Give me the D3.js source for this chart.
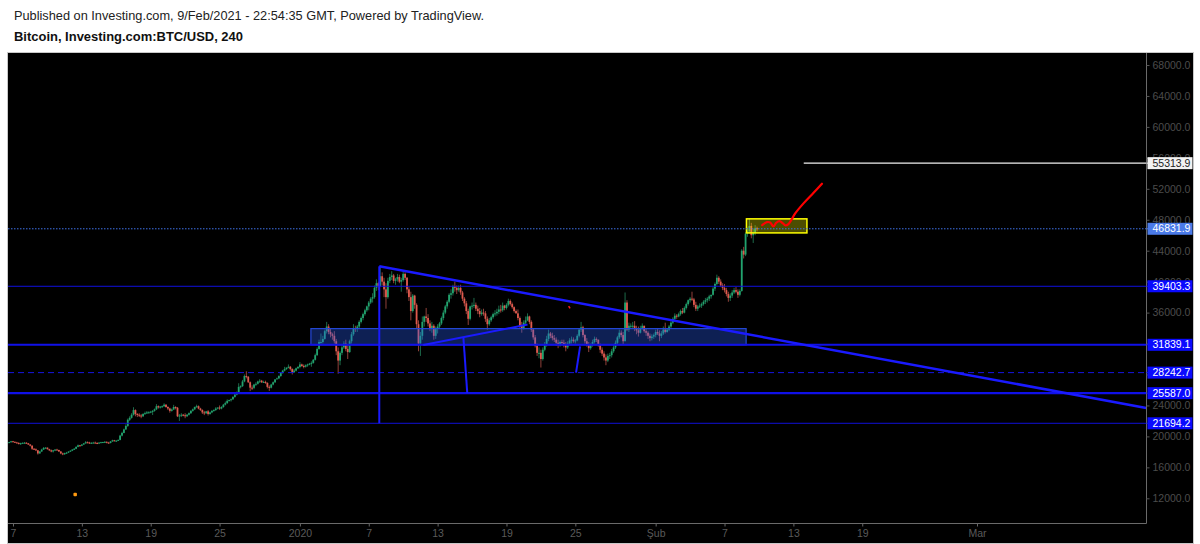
<!DOCTYPE html>
<html>
<head>
<meta charset="utf-8">
<script src="https://d3js.org/d3.v7.min.js"></script>
<style>
body { margin: 0; background: #fff; }
svg { display: block; font-family: "Liberation Sans", Arial, sans-serif; }
</style>
</head>
<body>
<svg id="chart" width="1200" height="544"></svg>
<script>
var title = "Published on Investing.com, 9/Feb/2021 - 22:54:35 GMT, Powered by TradingView.";
var subtitle = "Bitcoin, Investing.com:BTC/USD, 240";

var dateTicks = ["2020-12-07", "2020-12-13", "2020-12-19", "2020-12-25", "2021-01-01", "2021-01-07", "2021-01-13",
    "2021-01-19", "2021-01-25", "2021-02-01", "2021-02-07", "2021-02-13", "2021-02-19", "2021-03-01"];
var dateLabels = ["7", "13", "19", "25", "2020", "7", "13", "19", "25", "Şub", "7", "13", "19", "Mar"];
var priceTicks = [12000, 16000, 20000, 24000, 28000, 32000, 36000, 40000, 44000, 48000, 52000, 56000, 60000, 64000, 68000];

// 4h candles, [high, low, close]; open = previous close
var firstCandle = "2020-12-06T12:00:00Z";
var firstOpen = 19150;
var decCandles = [
    [19250,19080,19200],[19300,19150,19260],[19420,19220,19370],
    [19420,19250,19300],[19340,19180,19220],[19300,19100,19150],[19250,18950,19050],[19180,18900,19120],[19220,19080,19170],
    [19280,19100,19180],[19250,19050,19100],[19150,18900,18950],[19000,18700,18800],[18850,18250,18400],[18500,18300,18330],
    [18450,18100,18200],[18250,17650,17800],[18100,17750,18050],[18400,18000,18300],[18630,18250,18500],[18600,18400,18550],
    [18560,18300,18350],[18400,18100,18200],[18300,17950,18050],[18250,17910,18200],[18350,18100,18300],[18400,18200,18250],
    [18270,18000,18050],[18100,17700,17800],[17900,17570,17700],[17900,17600,17850],[18000,17750,17900],[18100,17850,18030],
    [18200,18020,18150],[18350,18100,18300],[18500,18250,18400],[18700,18350,18650],[18950,18600,18850],[18900,18700,18800],
    [19000,18740,18950],[19150,18900,19100],[19400,19050,19250],[19350,19100,19200],[19300,19050,19150],[19250,19050,19170],
    [19300,19100,19200],[19330,19100,19150],[19250,19000,19100],[19250,19050,19200],[19300,19150,19250],[19300,19180,19270],
    [19400,19200,19300],[19350,19100,19200],[19300,19060,19150],[19400,19100,19350],[19570,19300,19500],[19550,19350,19440],
    [19500,19290,19450],[19600,19400,19550],[20200,19500,20100],[20600,20000,20450],[21000,20400,20900],[21560,20850,21350],
    [22300,21230,22150],[22600,22000,22400],[23000,22300,22800],[23770,22700,23400],[23500,22600,22900],[23000,22500,22800],
    [23000,22500,22700],[22900,22350,22600],[23000,22500,22900],[23200,22800,23000],[23280,22900,23100],[23250,22950,23120],
    [23300,23000,23200],[23400,22760,23300],[23600,23200,23500],[24170,23400,23900],[24000,23600,23750],[23900,23600,23850],
    [24000,23700,23900],[24280,23800,24100],[24150,23700,23800],[23900,23400,23600],[23700,23070,23300],[23600,23200,23480],
    [24080,23400,23800],[23900,23500,23700],[23800,22500,22600],[22900,22000,22700],[23000,22500,22800],[22900,22600,22730],
    [23000,22350,22600],[22900,22500,22800],[23100,22700,23000],[23400,22900,23300],[23600,23200,23500],[23820,23400,23820],
    [24100,23700,23900],[24000,23500,23600],[23700,23300,23400],[23500,22900,23100],[23300,22750,23000],[23300,22900,23240],
    [23400,22700,22900],[23200,22800,23100],[23400,23000,23300],[23500,23200,23400],[23770,23300,23600],[23750,23500,23730],
    [24000,23440,23600],[23900,23500,23800],[24200,23700,24100],[24500,24000,24300],[24790,24200,24600],[24750,24500,24700],
    [24900,24500,24800],[25200,24700,25100],[25500,25000,25400],[25800,25300,25700],[26870,25600,26400],[26600,26200,26490],
    [27300,26400,27100],[28000,27000,27800],[28420,27500,27700],[27800,26900,27000],[27100,25850,26300],[26600,26000,26280],
    [26800,26100,26700],[27000,26500,26800],[27200,26700,27100],[27410,26900,27200],[27300,26900,27000],[27200,26900,27040],
    [27200,26800,26900],[27000,26200,26400],[26600,25880,26300],[26800,26200,26700],[27100,26600,27000],[27370,26900,27370],
    [27600,27370,27500],[27900,27400,27800],[28300,27700,28200],[28600,28100,28500],[28990,28400,28700],[28900,28600,28890],
    [29300,28800,29000],[29100,28500,28700],[28800,28000,28300],[28700,28200,28500],[28900,28400,28800],[29100,28700,28970]
];
var janCandles = [
    [29600,28800,29300],[29400,29000,29100],[29300,28800,29000],[29300,28900,29200],[29400,29000,29300],[29500,29200,29400],
    [29700,29000,29500],[30000,29400,29900],[30700,29800,30500],[31500,30400,31300],[32500,31200,32200],[33300,31800,32200],
    [33000,32000,32600],[33800,32500,33600],[34800,33300,34200],[34500,33200,33500],[33900,32800,33200],[33400,32500,33000],
    [33600,32000,32300],[32600,30500,31000],[31500,28100,29800],[31000,29200,30800],[31800,30500,31500],[32300,31300,31990],
    [32500,31000,31300],[31800,30000,30900],[32500,30800,32300],[33500,32000,33200],[34500,33000,34000],[34300,33500,33990],
    [34400,33500,34200],[35000,34000,34800],[35500,34600,35300],[36000,35000,35800],[36500,35600,36300],[36900,36100,36800],
    [37500,36300,37300],[38000,37100,37800],[38500,37300,38000],[39500,37800,39200],[40300,38800,39800],[40000,38900,39400],
    [41950,39400,40700],[41200,39500,40000],[40500,38000,39000],[39800,36500,38000],[40500,37800,40100],[41000,39800,40600],
    [41350,40200,40800],[41000,39800,40100],[40500,39600,40300],[41000,40000,40600],[40900,39800,40000],[40500,38700,40200],
    [41400,40000,41000],[41200,40200,40500],[40600,38500,39000],[39300,37500,38000],[38700,35000,36200],[38400,36000,38200],
    [38300,36500,37000],[37200,34000,34500],[35000,31000,32000],[33500,30400,33000],[35500,32500,34800],[35600,34200,35500],
    [36600,34800,35300],[35800,34200,34600],[35000,33600,34000],[34800,33400,34300],[34500,32500,33000],[34200,32600,33900],
    [34500,33300,34200],[34800,33900,34600],[35500,34400,35300],[36300,35000,36000],[37000,35800,36800],[37600,36500,37400],
    [38500,37200,38300],[39000,37800,38500],[39600,38200,39400],[40000,38700,39200],[39500,38400,38900],[39500,38700,39200],
    [39600,38300,38600],[38800,37500,37800],[38000,36800,37200],[37500,35800,36200],[36500,34400,35200],[36900,35000,36800],
    [37300,36400,36900],[37900,36600,37000],[37300,36200,36500],[36900,35800,36200],[36600,35400,35800],[36400,35600,36000],
    [36500,35600,35900],[36200,34800,35200],[35500,33800,34500],[35300,34300,35000],[35600,34800,35400],[36000,35200,35800],
    [36300,35500,35900],[36500,35600,36100],[36900,35800,36400],[37000,36000,36300],[37300,36100,36900],[37000,36300,36600],
    [37200,36400,37000],[37800,36800,37500],[37700,36900,37100],[37300,36500,36700],[36800,36000,36200],[36400,35900,35900],
    [36400,35000,35300],[35500,34000,34300],[34800,33400,34000],[35000,33800,34700],[35500,34500,35000],[35900,34900,35500],
    [35600,34500,34800],[35000,33500,33800],[34000,32500,32800],[33100,31500,31700],[32000,30400,30800],[31500,30100,30800],
    [31200,28900,30000],[31500,29800,31200],[32200,31000,31900],[33000,31600,32600],[33800,32300,33300],[33500,32700,33000],
    [33400,32400,32700],[33100,32200,32500],[32800,31700,32100],[32500,31400,31900],[32400,31600,32200],[32500,31800,32100],
    [32500,31500,31800],[32200,31000,31500],[32300,31300,32000],[32700,31800,32400],[32900,32000,32500],[32800,32100,32300],
    [32600,32000,32400],[33200,32300,33000],[34000,32800,33800],[34800,33500,34100],[34300,32800,33100],[33200,32000,32300],
    [32700,31600,31900],[32200,30900,31400],[32000,31200,31800],[32500,31600,32200],[32900,32000,32600],[32800,32200,32500],
    [32500,31600,31800],[32000,30800,31200],[31500,30400,30700],[31000,29800,30200],[30600,29200,29800],[30700,29600,30400],
    [30800,30000,30500],[31300,30200,31000],[31800,30800,31500],[32400,31300,32100],[33000,31900,32800],[33800,32600,33400],
    [33700,32800,33100],[33500,31900,32300],[38600,32300,37300],[37600,33600,33800],[34700,33500,34300],[34600,33900,34300],
    [34800,34000,34300],[34900,33600,33900],[34300,33200,33700],[34200,32900,33400],[34300,33300,34000],[34600,33800,34300],
    [34300,33400,33600],[33900,33000,33400],[33600,32600,33000],[33300,32300,32700],[33200,32400,32900],[33300,32600,33100]
];
var febCandles = [
    [33800,32800,33500],[34000,33100,33300],[33700,32300,33000],[33600,32700,33300],[34200,33100,33800],[34700,33300,33500],
    [34000,33400,33800],[34400,33600,34200],[34900,33900,34700],[35400,34500,35200],[35900,34900,35600],[35800,35200,35500],
    [36000,35400,35800],[36400,35600,36200],[36600,35800,36000],[36800,35900,36600],[37300,36400,37100],[37700,36900,37600],
    [38000,37300,37800],[38700,37500,37700],[37900,36700,37000],[37400,36200,36500],[37000,36200,36800],[37200,36600,36900],
    [37300,36600,37100],[37600,36900,37400],[37900,37100,37600],[38000,37300,37800],[38300,37500,38100],[38300,37800,38300],
    [39300,38200,39100],[39900,38800,39700],[40900,39500,40500],[40700,39700,40000],[40300,39300,39500],[39800,38900,39200],
    [39700,38600,38900],[39200,38100,38400],[38700,37400,37900],[38500,37500,38200],[38900,37900,38600],[39200,38400,38900],
    [39300,38500,38700],[39000,37900,38300],[39000,38100,38800],[44200,38700,44000],[44500,43000,43500],[46400,43300,46200],
    [47000,45800,46500],[48200,46200,47200],[47600,45600,46000],[46800,45000,46300],[47300,46000,46900],[47100,46500,46831.9]
];

// price levels drawn on the chart (with their axis labels)
var levelPrices = [55313.9, 46831.9, 39403.3, 31839.1, 28242.7, 25587.0, 21694.2];
var whiteLevelStart = "2021-02-13T21:40:00Z";

// drawings: [date, price]
var trendLine = [["2021-01-07T22:00:00Z", 41980], ["2021-03-15T18:00:00Z", 23680]];
var peakDrop = [["2021-01-07T22:00:00Z", 41980], ["2021-01-07T22:00:00Z", 21694.2]];
var lowerLine = [["2021-01-11T18:00:00Z", 31816], ["2021-01-20T20:00:00Z", 34450]];
var legB = [["2021-01-15T06:00:00Z", 32724], ["2021-01-15T14:00:00Z", 25587]];
var legC = [["2021-01-25T10:00:00Z", 31634], ["2021-01-25T01:30:00Z", 28242.7]];
var redTick = [["2021-01-24T10:00:00Z", 36850], ["2021-01-24T13:00:00Z", 36550]];
var zoneBlue = [["2021-01-01T23:00:00Z", 33930], ["2021-02-08T21:10:00Z", 31839.1]];
var zoneYellow = [["2021-02-08T21:50:00Z", 48117], ["2021-02-14T04:20:00Z", 46300]];
var forecast = [
    ["2021-02-10T06:45:00Z", 47299], ["2021-02-10T16:30:00Z", 47688], ["2021-02-10T23:30:00Z", 47650],
    ["2021-02-11T06:15:00Z", 47130], ["2021-02-11T12:00:00Z", 47598], ["2021-02-11T19:00:00Z", 47818],
    ["2021-02-12T02:10:00Z", 47520], ["2021-02-12T07:30:00Z", 47260], ["2021-02-12T13:40:00Z", 47429],
    ["2021-02-12T19:25:00Z", 47948], ["2021-02-13T03:50:00Z", 48818], ["2021-02-13T21:10:00Z", 50116],
    ["2021-02-14T18:15:00Z", 51491], ["2021-02-15T11:45:00Z", 52659]
];
var orangeDot = ["2020-12-12T09:30:00Z", 12517];

// build candles
var rows = decCandles.concat(janCandles, febCandles);
var t0 = new Date(firstCandle);
var candles = [];
var prev = firstOpen;
rows.forEach(function(r, i) {
    candles.push({ t: d3.utcHour.offset(t0, 4 * i), o: prev, h: r[0], l: r[1], c: r[2] });
    prev = r[2];
});

var svg = d3.select("#chart");
var L = 8, R = 1146.5, T = 53, B = 523.5;

var x = d3.scaleUtc()
    .domain([new Date("2020-12-07T00:00:00Z"), new Date("2021-03-01T00:00:00Z")])
    .range([13, 977]);
var y = d3.scaleLinear().domain([12000, 68000]).range([498.3, 65]);

function px(p) { return x(new Date(p[0])); }
function py(p) { return y(p[1]); }

// header
svg.append("text").attr("x", 14).attr("y", 20).attr("font-size", 13).attr("fill", "#222")
    .attr("textLength", 470).attr("lengthAdjust", "spacingAndGlyphs").text(title);
svg.append("text").attr("x", 14).attr("y", 41).attr("font-size", 12).attr("font-weight", "bold").attr("fill", "#111")
    .attr("textLength", 229).attr("lengthAdjust", "spacingAndGlyphs").text(subtitle);

// frame
svg.append("rect").attr("x", 7.5).attr("y", 52.5).attr("width", 1186).attr("height", 491)
    .attr("fill", "#000").attr("stroke", "#c8c8c8");

svg.append("clipPath").attr("id", "plot")
    .append("rect").attr("x", L).attr("y", T).attr("width", R - L).attr("height", B - T);

var plot = svg.append("g").attr("clip-path", "url(#plot)");

// candles
var up = "#21a36e", down = "#e05a4e";
plot.selectAll(".wick")
    .data(candles).enter()
    .append("line")
    .attr("x1", function(d) { return x(d.t) })
    .attr("x2", function(d) { return x(d.t) })
    .attr("y1", function(d) { return y(d.h) })
    .attr("y2", function(d) { return y(d.l) })
    .attr("stroke", function(d) { return d.c >= d.o ? "#1d6a4a" : "#90403a" })
    .attr("stroke-width", 1);
plot.selectAll(".body")
    .data(candles).enter()
    .append("rect")
    .attr("x", function(d) { return x(d.t) - 0.9 })
    .attr("width", 1.8)
    .attr("y", function(d) { return y(Math.max(d.o, d.c)) })
    .attr("height", function(d) { return Math.max(1, Math.abs(y(d.o) - y(d.c))) })
    .attr("fill", function(d) { return d.c >= d.o ? up : down });

// zones
plot.append("rect")
    .attr("x", px(zoneBlue[0])).attr("y", py(zoneBlue[0]))
    .attr("width", px(zoneBlue[1]) - px(zoneBlue[0])).attr("height", py(zoneBlue[1]) - py(zoneBlue[0]))
    .attr("fill", "rgb(41,98,255)").attr("fill-opacity", 0.33)
    .attr("stroke", "#2447d6").attr("stroke-width", 1.2);
plot.append("rect")
    .attr("x", px(zoneYellow[0])).attr("y", py(zoneYellow[0]))
    .attr("width", px(zoneYellow[1]) - px(zoneYellow[0])).attr("height", py(zoneYellow[1]) - py(zoneYellow[0]))
    .attr("fill", "rgb(255,255,0)").attr("fill-opacity", 0.3)
    .attr("stroke", "#ffff00").attr("stroke-width", 1.5);

// horizontal levels
var levelStyle = [
    { color: "#f0f0f0", width: 1.2, dash: null },
    { color: "#3f72e6", width: 1, dash: "1.5,1.5" },
    { color: "#1010e0", width: 1, dash: null },
    { color: "#1010e8", width: 2, dash: null },
    { color: "#1515e0", width: 1, dash: "6,4" },
    { color: "#1010e8", width: 2.2, dash: null },
    { color: "#1010d8", width: 1, dash: null }
];
plot.selectAll(".level")
    .data(levelPrices).enter()
    .append("line")
    .attr("x1", function(d, i) { return i === 0 ? x(new Date(whiteLevelStart)) : L })
    .attr("x2", R)
    .attr("y1", function(d) { return y(d) })
    .attr("y2", function(d) { return y(d) })
    .attr("stroke", function(d, i) { return levelStyle[i].color })
    .attr("stroke-width", function(d, i) { return levelStyle[i].width })
    .attr("stroke-dasharray", function(d, i) { return levelStyle[i].dash });

// drawn lines
var line = d3.line().x(px).y(py);
var blueLines = [
    { pts: trendLine, w: 2.5 },
    { pts: peakDrop, w: 2 },
    { pts: lowerLine, w: 2 },
    { pts: legB, w: 2 },
    { pts: legC, w: 2 }
];
plot.selectAll(".draw")
    .data(blueLines).enter()
    .append("path")
    .attr("d", function(d) { return line(d.pts) })
    .attr("fill", "none")
    .attr("stroke", "#1a1aff")
    .attr("stroke-width", function(d) { return d.w });

plot.append("path").attr("d", line(redTick)).attr("fill", "none").attr("stroke", "#ff2020").attr("stroke-width", 1.5);
plot.append("path").attr("d", d3.line().x(px).y(py).curve(d3.curveCatmullRom)(forecast))
    .attr("fill", "none").attr("stroke", "#ff0000").attr("stroke-width", 2.2)
    .attr("stroke-linecap", "round").attr("stroke-linejoin", "round");

plot.append("rect")
    .attr("x", px(orangeDot) - 1.5).attr("y", py(orangeDot) - 1.5)
    .attr("width", 3.5).attr("height", 3.5).attr("rx", 1)
    .attr("fill", "#ff9a10");

// axis separators
svg.append("line").attr("x1", R).attr("x2", R).attr("y1", T).attr("y2", B).attr("stroke", "#6a6a6a");
svg.append("line").attr("x1", L).attr("x2", R).attr("y1", B).attr("y2", B).attr("stroke", "#6a6a6a");

// price axis
var yAxis = d3.axisRight(y).tickValues(priceTicks).tickSize(3).tickPadding(3)
    .tickFormat(function(d) { return d3.format(".1f")(d) });
var ya = svg.append("g").attr("transform", "translate(" + R + ",0)").call(yAxis);
ya.select(".domain").remove();
ya.selectAll("line").attr("stroke", "#555");
ya.selectAll("text").attr("fill", "#4c4c4c").attr("font-size", 10.5)
    .attr("font-family", "'Liberation Sans', Arial, sans-serif");

// time axis
var xAxis = d3.axisBottom(x).tickValues(dateTicks.map(function(d) { return new Date(d + "T00:00:00Z") }))
    .tickSize(3).tickPadding(3)
    .tickFormat(function(d, i) { return dateLabels[i] });
var xa = svg.append("g").attr("transform", "translate(0," + B + ")").call(xAxis);
xa.select(".domain").remove();
xa.selectAll("line").attr("stroke", "#666");
xa.selectAll("text").attr("fill", "#5a5a5a").attr("font-size", 10.5)
    .attr("font-family", "'Liberation Sans', Arial, sans-serif");

// price labels for levels
var labelFill = ["#f2f2f2", "#4a7ae8", "#0a0aff", "#0a0aff", "#0a0aff", "#0a0aff", "#0a0aff"];
var labelText = ["#222", "#fff", "#fff", "#fff", "#fff", "#fff", "#fff"];
var tags = svg.selectAll(".tag")
    .data(levelPrices).enter()
    .append("g")
    .attr("transform", function(d) { return "translate(" + R + "," + y(d) + ")" });
tags.append("line").attr("x1", 0).attr("x2", 3).attr("stroke", function(d, i) { return labelFill[i] });
tags.append("rect")
    .attr("x", 1).attr("y", -6).attr("width", 45).attr("height", 12)
    .attr("fill", function(d, i) { return labelFill[i] });
tags.append("text")
    .attr("x", 6).attr("dy", "0.35em")
    .attr("font-size", 10.5)
    .attr("fill", function(d, i) { return labelText[i] })
    .text(function(d) { return d3.format(".1f")(d) });
</script>
</body>
</html>
